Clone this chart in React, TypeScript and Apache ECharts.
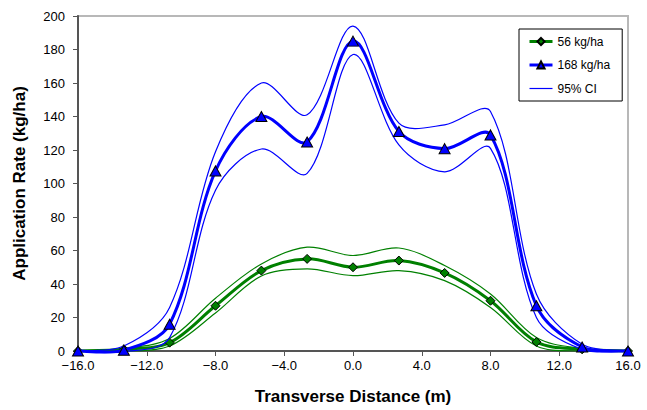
import React, { useEffect, useRef } from "react";
import * as echarts from "echarts";

const xPositions = [-16, -13.33, -10.67, -8, -5.33, -2.67, 0, 2.67, 5.33, 8, 10.67, 13.33, 16];
const rate56 = [0, 1, 5, 27, 48, 55, 50, 54, 46.6, 30, 5.4, 1, 0];
const rate56Upper = [0, 1.5, 7.5, 31.5, 52, 62, 57, 61.5, 51, 34, 8, 1.5, 0];
const rate56Lower = [0, 0, 3, 22.7, 44.8, 49, 45, 48, 42, 26, 3, 0, 0];
const rate168 = [0, 0.5, 16, 107.5, 140, 124.8, 185, 131, 120.8, 129, 27, 2.4, 0];
const rate168Upper = [0, 3, 26, 119, 160, 141, 194, 136, 135, 143, 34, 4, 0];
const rate168Lower = [0, -0.5, 8, 96, 120.6, 106, 177, 123, 107, 121, 20, 1, 0];
const xTicks = { min: -16, max: 16, interval: 4 };
const yTicks = { min: 0, max: 200, interval: 20 };

const GREEN = "#008000";
const BLUE = "#0000FF";
const FONT = "Liberation Sans, Arial, sans-serif";
const TENSION = 1 / 3;

const pair = (ys: number[]) => xPositions.map((x, i) => [x, ys[i]]);

function smoothPath(pts: number[][]): string {
  const f = (v: number) => v.toFixed(2);
  const dist = (a: number[], b: number[]) => Math.hypot(a[0] - b[0], a[1] - b[1]) || 1e-6;
  let d = `M${f(pts[0][0])},${f(pts[0][1])}`;
  for (let i = 0; i < pts.length - 1; i++) {
    const p0 = pts[i - 1] || pts[i];
    const p1 = pts[i];
    const p2 = pts[i + 1];
    const p3 = pts[i + 2] || p2;
    const r1 = i === 0 ? 0.5 : dist(p1, p2) / (dist(p0, p1) + dist(p1, p2));
    const r2 = i + 2 >= pts.length ? 0.5 : dist(p1, p2) / (dist(p1, p2) + dist(p2, p3));
    const c1x = p1[0] + (p2[0] - p0[0]) * TENSION * r1;
    const c1y = p1[1] + (p2[1] - p0[1]) * TENSION * r1;
    const c2x = p2[0] - (p3[0] - p1[0]) * TENSION * r2;
    const c2y = p2[1] - (p3[1] - p1[1]) * TENSION * r2;
    d += ` C${f(c1x)},${f(c1y)} ${f(c2x)},${f(c2y)} ${f(p2[0])},${f(p2[1])}`;
  }
  return d;
}

function curveSeries(name: string, ys: number[], color: string, width: number, z: number) {
  return {
    type: "custom",
    name,
    data: pair(ys),
    clip: false,
    silent: true,
    z,
    renderItem: (params: any, api: any) => {
      if (params.dataIndex !== 0) return null;
      const pts = ys.map((y, i) => api.coord([xPositions[i], y]));
      return {
        type: "path",
        shape: { pathData: smoothPath(pts) },
        style: { stroke: color, lineWidth: width, fill: "none", lineJoin: "round" },
      };
    },
  };
}

export default function App() {
  const ref = useRef<HTMLDivElement>(null);
  useEffect(() => {
    if (!ref.current) return;
    const chart = echarts.init(ref.current, undefined, { renderer: "svg" });
    chart.setOption({
      animation: false,
      backgroundColor: "#fff",
      textStyle: { fontFamily: FONT },
      grid: {
        left: 78,
        right: 19,
        top: 16,
        bottom: 59,
        show: true,
        borderColor: "#b8b8b8",
        borderWidth: 2,
        backgroundColor: "transparent",
      },
      legend: {
        orient: "vertical",
        left: 519,
        top: 29,
        padding: [6.5, 12, 6.5, 9],
        itemWidth: 23,
        itemHeight: 9,
        itemGap: 11.5,
        borderColor: "#000",
        borderWidth: 1,
        borderRadius: 0,
        backgroundColor: "#fff",
        selectedMode: false,
        data: [
          { name: "56 kg/ha", lineStyle: { color: GREEN, width: 3, opacity: 1 } },
          { name: "168 kg/ha", lineStyle: { color: BLUE, width: 3, opacity: 1 } },
          {
            name: "95% CI",
            itemStyle: { color: "rgba(0,0,0,0)", borderColor: "rgba(0,0,0,0)", borderWidth: 0 },
            lineStyle: { color: BLUE, width: 1.2, opacity: 1 },
          },
        ],
        textStyle: { fontFamily: FONT, fontSize: 12, color: "#000" },
      },
      xAxis: {
        type: "value",
        min: xTicks.min,
        max: xTicks.max,
        interval: xTicks.interval,
        name: "Transverse Distance (m)",
        nameLocation: "middle",
        nameGap: 37,
        nameTextStyle: { fontFamily: FONT, fontSize: 17, fontWeight: "bold", color: "#000" },
        splitLine: { show: false },
        axisLine: { onZero: false, lineStyle: { color: "#555", width: 2 } },
        axisTick: { show: true, length: 5, lineStyle: { color: "#555", width: 1 } },
        axisLabel: {
          margin: 8,
          fontFamily: FONT,
          fontSize: 13,
          color: "#000",
          formatter: (v: number) => (v < 0 ? "\u2212" : "") + Math.abs(v).toFixed(1),
        },
      },
      yAxis: {
        type: "value",
        min: yTicks.min,
        max: yTicks.max,
        interval: yTicks.interval,
        name: "Application Rate (kg/ha)",
        nameLocation: "middle",
        nameGap: 50,
        nameTextStyle: { fontFamily: FONT, fontSize: 17, fontWeight: "bold", color: "#000" },
        splitLine: { show: false },
        axisLine: { show: true, onZero: false, lineStyle: { color: "#555", width: 2 } },
        axisTick: { show: true, length: 5, lineStyle: { color: "#555", width: 1 } },
        axisLabel: { margin: 13, fontFamily: FONT, fontSize: 13, color: "#000" },
      },
      series: [
        curveSeries("ci56u", rate56Upper, GREEN, 1.2, 2),
        curveSeries("ci56l", rate56Lower, GREEN, 1.2, 2),
        curveSeries("main56", rate56, GREEN, 3, 3),
        {
          type: "line",
          name: "56 kg/ha",
          data: pair(rate56),
          symbol: "diamond",
          symbolSize: 9,
          lineStyle: { color: GREEN, width: 0, opacity: 0 },
          itemStyle: { color: GREEN, borderColor: "#000", borderWidth: 1 },
          z: 4,
        },
        curveSeries("ci168u", rate168Upper, BLUE, 1.2, 5),
        curveSeries("ci168l", rate168Lower, BLUE, 1.2, 5),
        curveSeries("main168", rate168, BLUE, 3, 6),
        {
          type: "line",
          name: "168 kg/ha",
          data: pair(rate168),
          symbol: "triangle",
          symbolSize: [11, 10],
          lineStyle: { color: BLUE, width: 0, opacity: 0 },
          itemStyle: { color: BLUE, borderColor: "#000", borderWidth: 1 },
          z: 7,
        },
        {
          type: "line",
          name: "95% CI",
          data: [],
          symbol: "none",
          lineStyle: { color: BLUE, width: 1.2 },
          itemStyle: { color: BLUE },
        },
      ],
    });
    return () => chart.dispose();
  }, []);
  return (
    <div
      ref={ref}
      style={{ position: "absolute", left: 0, top: 0, width: 647, height: 410 }}
    />
  );
}
